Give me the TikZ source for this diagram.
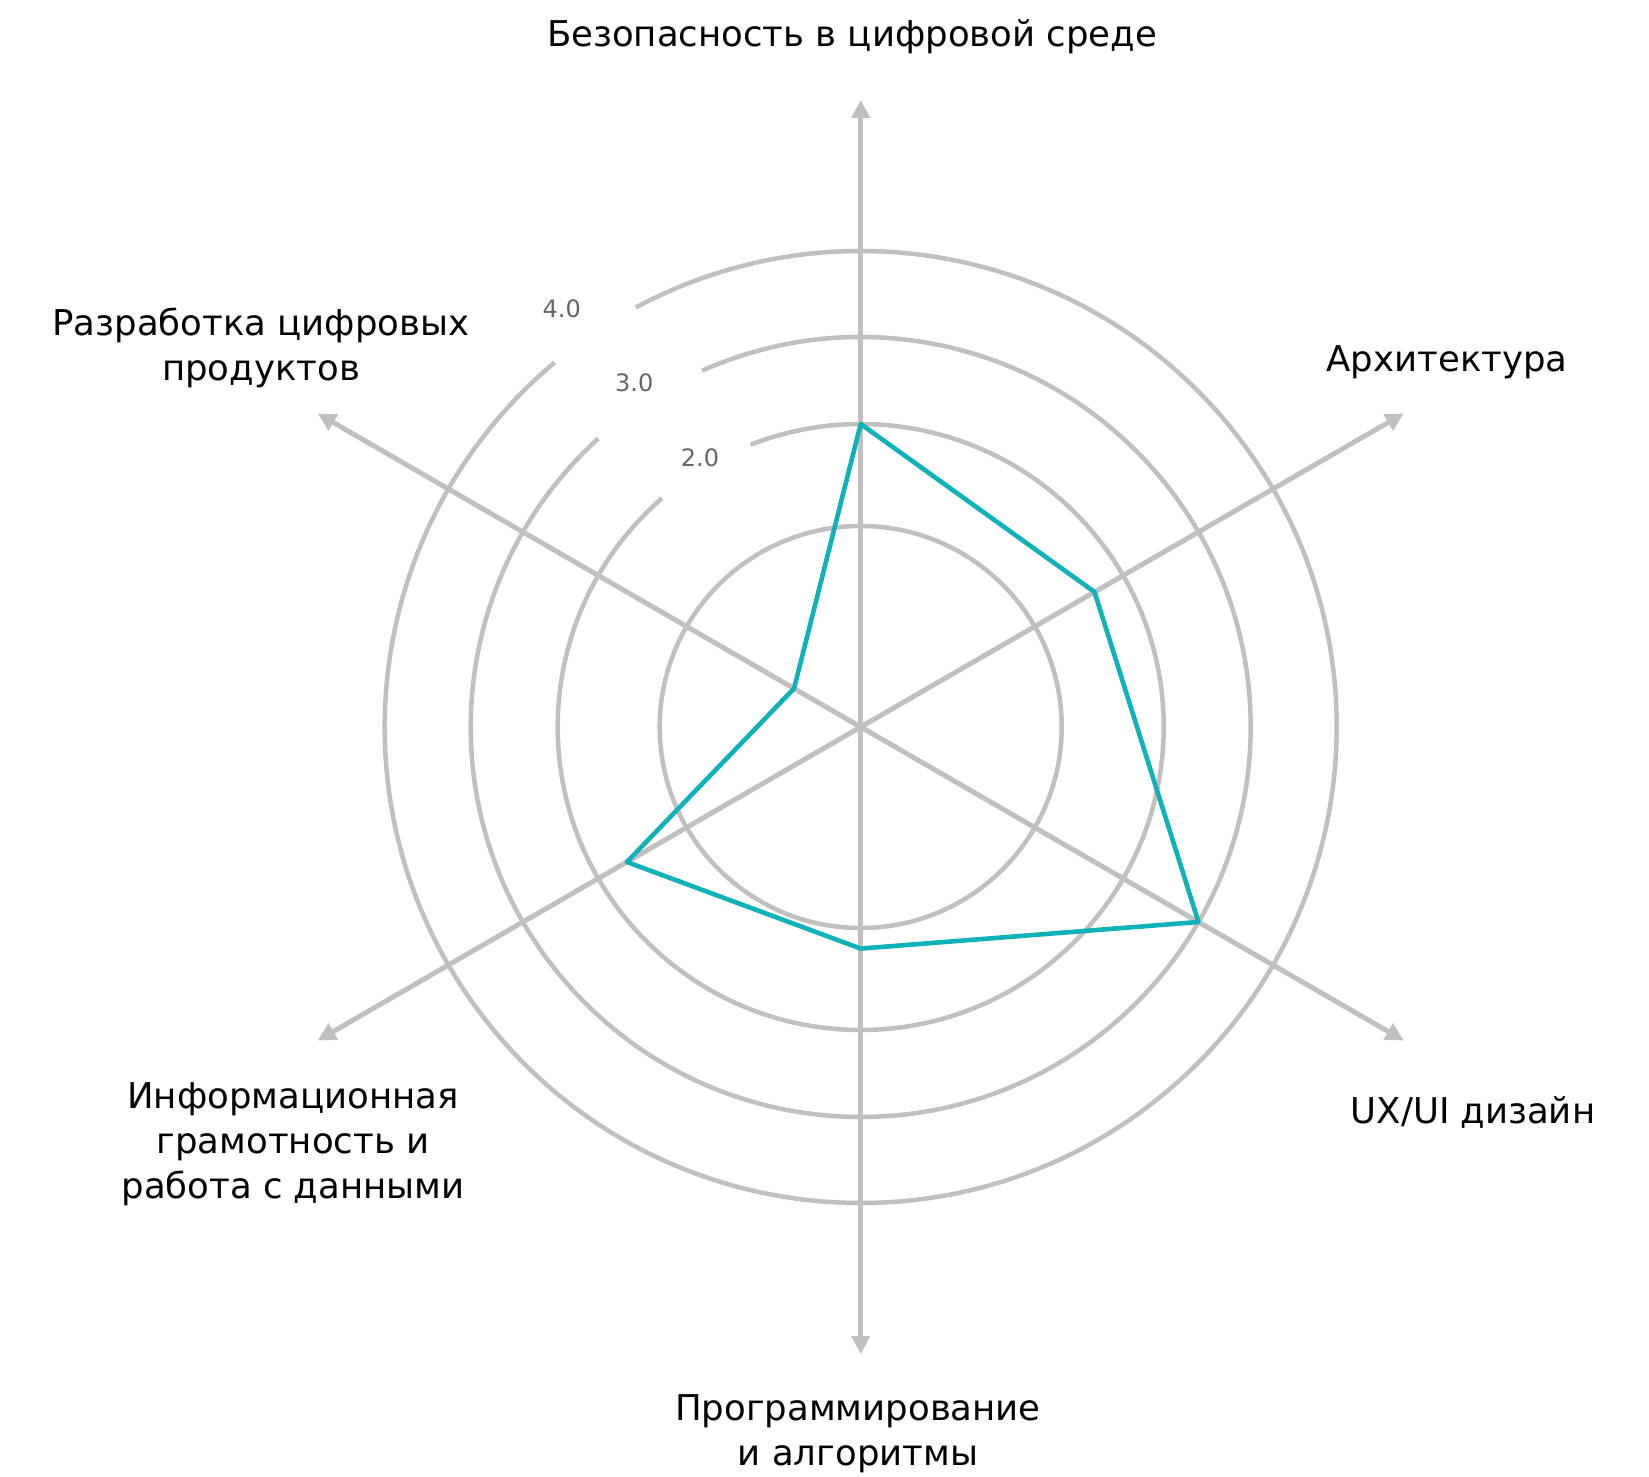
\documentclass[tikz,border=0pt]{standalone}
\usepackage{fontspec}
\setmainfont{DejaVu Sans}
\usetikzlibrary{arrows.meta}
\definecolor{gridgray}{RGB}{192,192,192}
\definecolor{tealline}{RGB}{16,178,186}
\definecolor{numgray}{RGB}{102,102,102}
\begin{document}
\begin{tikzpicture}[x=1pt,y=1pt,
  ring/.style={draw=gridgray,line width=4.5pt},
  axisline/.style={draw=gridgray,line width=5pt,-{Triangle[length=18pt,width=18pt]}},
  datapoly/.style={draw=tealline,line width=4.6pt,line join=round},
  cat/.style={font=\fontsize{35.5}{45}\selectfont, align=center, text=black, inner sep=0pt, anchor=base},
  val/.style={font=\fontsize{24}{28}\selectfont, text=numgray, inner sep=0pt}]
\useasboundingbox[fill=white] (0,0) rectangle (1649,1476);
\coordinate (C) at (860.7,749);
% rings
\draw[ring] (C) circle[radius=201];
\draw[ring] ([shift={(131:303)}]C) arc[start angle=131,end angle=471.3,radius=303];
\draw[ring] ([shift={(132.3:390)}]C) arc[start angle=132.3,end angle=474,radius=390];
\draw[ring] ([shift={(130:476)}]C) arc[start angle=130,end angle=478.2,radius=476];
% axes
\foreach \a/\n in {90/ax1,30/ax2,-30/ax3,-90/ax4,-150/ax5,150/ax6}{
  \coordinate (\n) at ([shift={(\a:627)}]C);
  \draw[axisline] (C) -- (\n);
}
% data
\coordinate (p1) at ([shift={(90:303)}]C);
\coordinate (p2) at ([shift={(30:270)}]C);
\coordinate (p3) at ([shift={(-30:390)}]C);
\coordinate (p4) at ([shift={(-90:221.6)}]C);
\coordinate (p5) at ([shift={(-150:270)}]C);
\coordinate (p6) at ([shift={(150:77)}]C);
\draw[datapoly] (p1) -- (p2) -- (p3) -- (p4) -- (p5) -- (p6) -- cycle;
% value labels
\node[val] (v4) at (561.7,1167.7) {4.0};
\node[val] (v3) at (634.3,1093.3) {3.0};
\node[val] (v2) at (700,1018.7) {2.0};
% category labels (anchor = baseline of the last line)
\node[cat] (t1) at (852,1429) {Безопасность в цифровой среде};
\node[cat] (t2) at (1447,1104) {Архитектура};
\node[cat] (t3) at (1473,352.7) {UX/UI дизайн};
\node[cat] (t4) at (858,11) {Программирование\\и алгоритмы};
\node[cat] (t5) at (293,277) {Информационная\\грамотность и\\работа с данными};
\node[cat] (t6) at (261,1095) {Разработка цифровых\\продуктов};
\end{tikzpicture}
\end{document}
